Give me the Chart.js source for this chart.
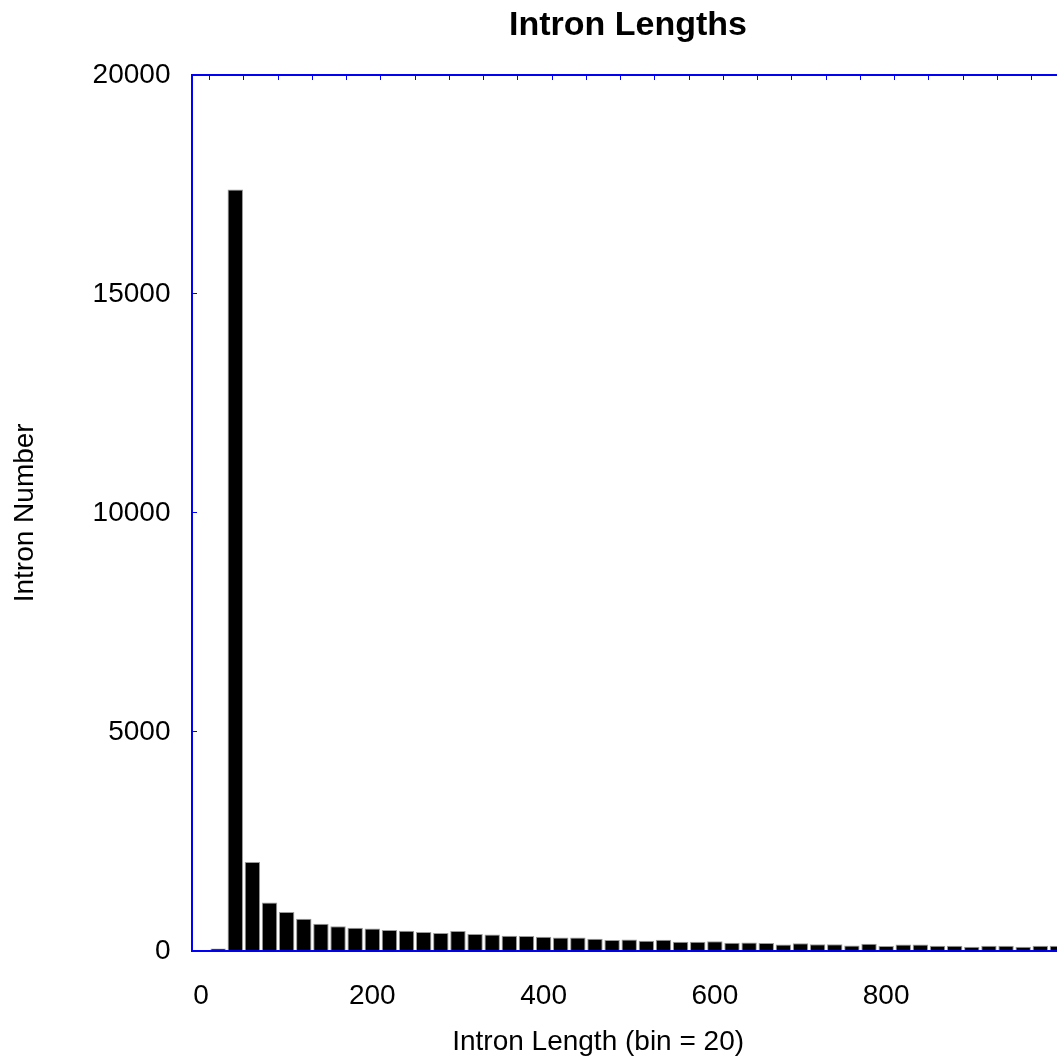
<!DOCTYPE html>
<html>
<head>
<meta charset="utf-8">
<title>Intron Lengths</title>
<script src="https://cdn.jsdelivr.net/npm/chart.js@4/dist/chart.umd.min.js"></script>
<style>
  html, body { margin: 0; padding: 0; background: #fff; overflow: hidden; }
  #wrap { width: 1252px; height: 1059px; }
</style>
</head>
<body>
<div id="wrap"><canvas id="myChart" width="1252" height="1059"></canvas></div>
<script>
// bin centres (bin = 20)
let binCenters = [0, 20, 40, 60, 80, 100, 120, 140, 160, 180,
                  200, 220, 240, 260, 280, 300, 320, 340, 360, 380,
                  400, 420, 440, 460, 480, 500, 520, 540, 560, 580,
                  600, 620, 640, 660, 680, 700, 720, 740, 760, 780,
                  800, 820, 840, 860, 880, 900, 920, 940, 960, 980, 1000];
let intronCounts = [0, 55, 17380, 2030, 1100, 885, 732, 617, 560, 526,
                    510, 475, 457, 428, 405, 450, 382, 375, 345, 336,
                    320, 306, 306, 275, 245, 260, 230, 250, 206, 206,
                    220, 183, 190, 180, 146, 175, 152, 152, 122, 160,
                    107, 146, 146, 114, 114, 91, 114, 114, 91, 114, 114];
let xTickLabels = [0, 200, 400, 600, 800];
let yTickLabels = [0, 5000, 10000, 15000, 20000];

Chart.defaults.font.family = "'Liberation Sans', Arial, sans-serif";
Chart.defaults.color = "#000";

let blue = "#0000ff";
let ctx = document.getElementById("myChart").getContext("2d");
let intronChart = new Chart(ctx, {
    type: "bar",
    data: {
        datasets: [{
            data: binCenters.map((x, i) => ({ x: x, y: intronCounts[i] })),
            backgroundColor: "#000",
            borderColor: "#9a9a9a",
            borderWidth: 1,
            categoryPercentage: 1,
            barPercentage: 0.9,
            xAxisID: "x",
            yAxisID: "y"
        }]
    },
    options: {
        responsive: false,
        devicePixelRatio: 1,
        animation: false,
        layout: { padding: { left: 4, top: 0, right: 0, bottom: 0 } },
        plugins: {
            legend: { display: false },
            tooltip: { enabled: false },
            title: {
                display: true,
                text: "Intron Lengths",
                font: { size: 34, weight: "bold" },
                padding: { top: 5, bottom: 29 }
            }
        },
        scales: {
            x: {
                type: "linear",
                position: "bottom",
                offset: false,
                min: -10,
                max: 1010,
                afterBuildTicks: function(scale) {
                    scale.ticks = xTickLabels.map(v => ({ value: v }));
                },
                ticks: {
                    font: { size: 28 },
                    padding: 21,
                    maxRotation: 0,
                    callback: function(value) { return String(value); }
                },
                grid: { display: false },
                border: { color: blue, width: 2 },
                title: {
                    display: true,
                    text: "Intron Length (bin = 20)" + "\u00a0".repeat(8),
                    font: { size: 28 },
                    padding: { top: -9, bottom: 0 }
                }
            },
            xTop: {
                type: "linear",
                position: "top",
                offset: false,
                min: -10,
                max: 1010,
                afterBuildTicks: function(scale) {
                    scale.ticks = binCenters.filter((c, i) => i > 0 && i % 2 === 0).map(c => ({ value: c - 10 }));
                },
                ticks: { display: false },
                grid: { drawOnChartArea: true, drawTicks: false, color: blue, lineWidth: 1 },
                border: { color: blue, width: 2, dash: [4, 3000] }
            },
            y: {
                min: 0,
                max: 20000,
                afterBuildTicks: function(scale) {
                    scale.ticks = yTickLabels.map(v => ({ value: v }));
                },
                ticks: {
                    font: { size: 28 },
                    padding: 22,
                    callback: function(value) { return String(value); }
                },
                grid: { drawOnChartArea: true, drawTicks: false, color: blue, lineWidth: 1 },
                border: { color: blue, width: 2, dash: [4, 3000] },
                title: {
                    display: true,
                    text: "Intron Number",
                    font: { size: 28 },
                    padding: { top: 4, bottom: 29 }
                }
            },
            yRight: {
                position: "right",
                display: true,
                afterFit: function(scale) { scale.width = 186; },
                ticks: { display: false },
                grid: { display: false },
                border: { display: false }
            }
        }
    }
});
</script>
</body>
</html>
